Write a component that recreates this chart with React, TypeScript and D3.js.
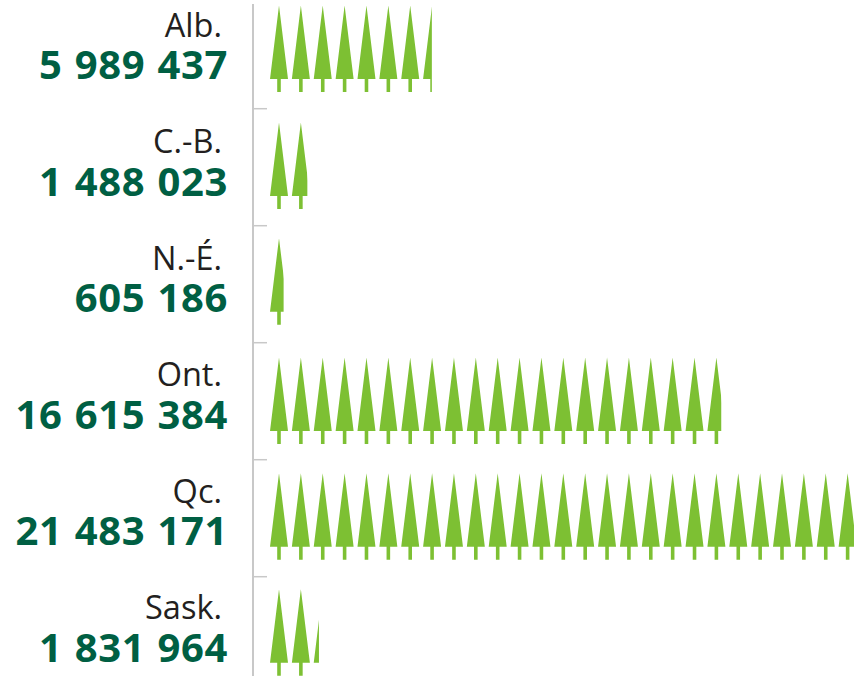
import React from "react";
import * as d3 from "d3";

const provinces = ["Alb.", "C.-B.", "N.-É.", "Ont.", "Qc.", "Sask."];
const valueLabels = ["5 989 437", "1 488 023", "605 186", "16 615 384", "21 483 171", "1 831 964"];
const values = [5989437, 1488023, 605186, 16615384, 21483171, 1831964];
const unitPerTree = 800000;

const GREEN = "#7dc033";
const DARK = "#005f43";

const rowIdx = [0, 1, 2, 3, 4, 5];
const rowScale = d3.scaleLinear().domain(rowIdx).range([79, 196, 311.7, 431, 546.7, 662.7]);
const textScale = d3.scaleLinear().domain([0, 5]).range([79, 661.7]);
const tickScale = d3.scaleLinear().domain([0, 1]).range([108.7, 225.7]);
const treeScale = d3.scaleLinear().domain([0, 1]).range([270, 291.87]);
const treeW = 18;
const treeH = 73.5;

const treePath = (x: number, base: number) => {
  const p = d3.path();
  p.moveTo(x, base);
  p.lineTo(x + treeW / 2, base - treeH);
  p.lineTo(x + treeW, base);
  p.closePath();
  p.rect(x + treeW / 2 - 1.8, base, 3.6, 13);
  return p.toString();
};

export default function App() {
  return (
    <svg width={863} height={676} style={{ position: "absolute", left: 0, top: 0, background: "#fff" }}>
      <line x1={253} x2={253} y1={4} y2={676} stroke="#c8c8c8" strokeWidth={2} />
      {provinces.slice(1).map((_, i) => {
        const y = tickScale(i);
        return <line key={i} x1={253} x2={267} y1={y} y2={y} stroke="#c8c8c8" strokeWidth={1.5} />;
      })}
      {provinces.map((name, i) => {
        const base = rowScale(i);
        const tb = textScale(i);
        const units = values[i] / unitPerTree;
        const whole = Math.floor(units);
        const frac = units - whole;
        const trees = d3.range(Math.ceil(units));
        return (
          <g key={name}>
            <text x={222} y={tb - 42.5} textAnchor="end" fontFamily="'Open Sans'" fontSize={32.5} fill="#231f20">{name}</text>
            <text x={228.2} y={tb} textAnchor="end" fontFamily="'Open Sans'" fontWeight={700} fontSize={40} fill={DARK} style={{ wordSpacing: "1px", letterSpacing: "0.7px" }}>{valueLabels[i]}</text>
            <clipPath id={`c${i}`}>
              <rect x={250} y={base - 90} width={treeScale(whole) - 250 + frac * treeW} height={120} />
            </clipPath>
            <g clipPath={`url(#c${i})`}>
              {trees.map((t) => (
                <path key={t} d={treePath(treeScale(t), base)} fill={GREEN} />
              ))}
            </g>
          </g>
        );
      })}
    </svg>
  );
}
